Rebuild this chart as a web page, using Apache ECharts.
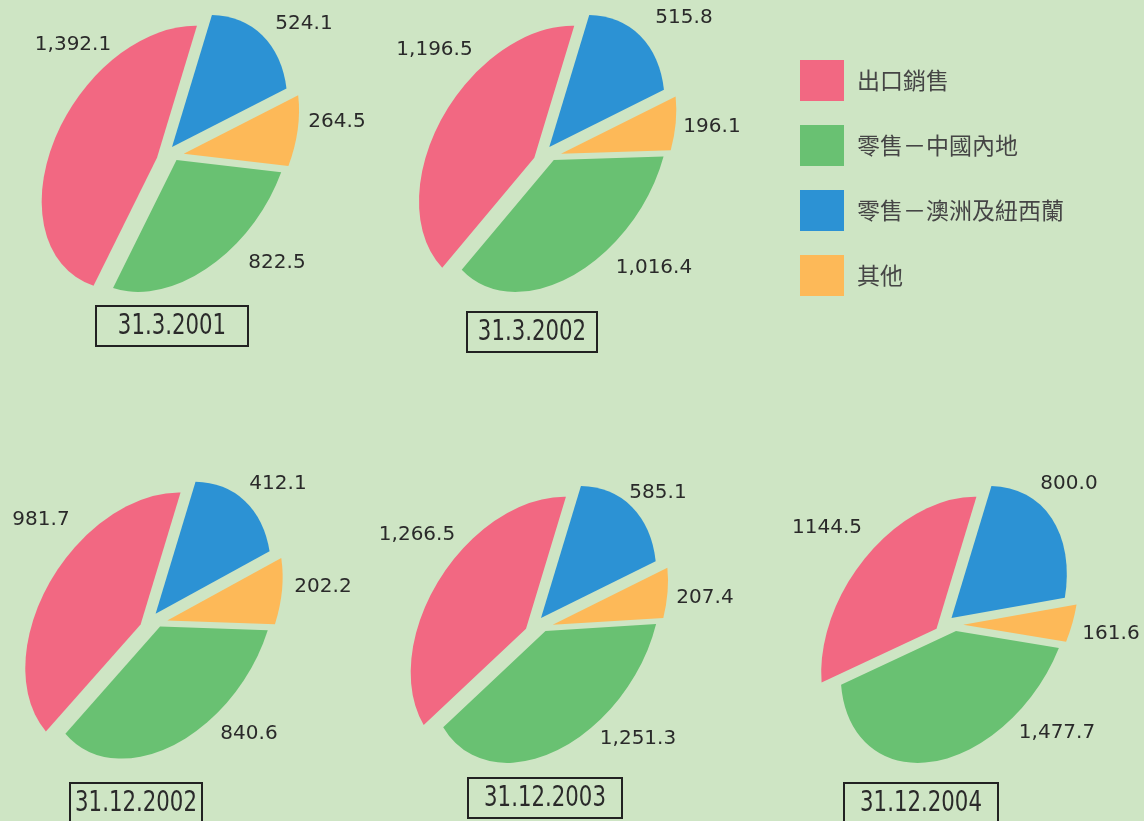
<!DOCTYPE html>
<html><head><meta charset="utf-8">
<script src="https://cdn.jsdelivr.net/npm/echarts@6/dist/echarts.min.js"></script>
<style>html,body{margin:0;padding:0;background:#CEE5C4;} #c{width:1144px;height:821px;}</style>
</head><body><div id="c"></div>
<script>
// ---- data ----
const categories = ['出口銷售', '零售－中國內地', '零售－澳洲及紐西蘭', '其他'];
const dates = ['31.3.2001', '31.3.2002', '31.12.2002', '31.12.2003', '31.12.2004'];
const exportSales = [1392.1, 1196.5, 981.7, 1266.5, 1144.5];
const retailChina = [822.5, 1016.4, 840.6, 1251.3, 1477.7];
const retailAnz = [524.1, 515.8, 412.1, 585.1, 800.0];
const others = [264.5, 196.1, 202.2, 207.4, 161.6];

// ---- style / layout ----
const colors = ['#F26882', '#69C172', '#2C92D4', '#FDB958'];
const seriesValues = [exportSales, retailChina, retailAnz, others];
const sliceOrder = [2, 3, 1, 0]; // clockwise from the top boundary
const pieCenters = [[172.3, 154.6], [549.6, 154.6], [155.9, 621.3], [541.3, 625.6], [951.8, 625.6]];
const SEMI_MAJOR = 144.3, SEMI_MINOR = 99.5;
const TILT = 56.1 * Math.PI / 180;
const START = -24 * Math.PI / 180;
// pulled-out offset of each category's slice (screen px) [export, china, anz, other]
const explodeOffsets = [[-15.3, 3.1], [4.2, 5.3], [-0.3, -7.6], [11.4, -0.9]];
// label offsets from pie centre, per pie, per category [export, china, anz, other]
const labelOffsets = [
  [[-99.3, -109.6], [104.7, 108.4], [131.7, -130.6], [164.7, -32.6]],
  [[-115.1, -105.1], [104.4, 113.4], [134.4, -136.6], [162.4, -27.6]],
  [[-114.9, -101.3], [93.1, 112.7], [122.1, -137.3], [167.1, -34.3]],
  [[-124.3, -90.6], [96.7, 113.4], [116.7, -132.6], [163.7, -27.6]],
  [[-124.8, -97.6], [105.2, 107.4], [117.2, -141.6], [159.2, 8.4]]
];
const plainFormat = {'4-0': true};
const dateBoxes = [[172, 326, 152], [532, 332, 130], [136, 803, 132], [545, 798, 154], [921, 803, 154]];

function fmt(v, p, c) {
  const s = v.toFixed(1);
  if (plainFormat[p + '-' + c]) return s;
  const parts = s.split('.');
  return parts[0].replace(/\B(?=(\d{3})+(?!\d))/g, ',') + '.' + parts[1];
}

function makeRender(p) {
  const vals = sliceOrder.map(c => seriesValues[c][p]);
  const total = vals.reduce((s, v) => s + v, 0);
  return function (params, api) {
    const i = params.dataIndex;
    const v = api.value(0);
    let before = 0;
    for (let k = 0; k < i; k++) before += vals[k];
    const sa = START + before / total * 2 * Math.PI;
    const ea = sa + v / total * 2 * Math.PI;
    const cat = sliceOrder[i];
    const cx = pieCenters[p][0], cy = pieCenters[p][1];
    const ex = explodeOffsets[cat];
    const off = labelOffsets[p][cat];
    return {
      type: 'group',
      children: [
        {
          type: 'group', x: cx + ex[0], y: cy + ex[1], rotation: TILT, scaleX: 1,
          scaleY: SEMI_MINOR / SEMI_MAJOR,
          children: [{
            type: 'sector',
            shape: {cx: 0, cy: 0, r0: 0, r: SEMI_MAJOR, startAngle: sa, endAngle: ea, clockwise: true},
            style: {fill: colors[cat]}
          }]
        },
        {
          type: 'text', x: cx + off[0], y: cy + off[1],
          style: {text: fmt(v, p, cat), fontSize: 20, fontFamily: '"DejaVu Sans"', fill: '#2a2a2a',
                  align: 'center', verticalAlign: 'middle'}
        }
      ]
    };
  };
}

const series = [];
categories.forEach((c, i) => {
  series.push({type: 'custom', name: c, coordinateSystem: 'none', itemStyle: {color: colors[i]},
               data: [], renderItem: () => null});
});
dates.forEach((d, p) => {
  series.push({
    type: 'custom', name: d, coordinateSystem: 'none',
    data: sliceOrder.map(c => ({value: seriesValues[c][p], name: categories[c]})),
    renderItem: makeRender(p)
  });
});

const graphic = [];
dates.forEach((d, p) => {
  const b = dateBoxes[p];
  graphic.push({type: 'rect', shape: {x: b[0] - b[2] / 2, y: b[1] - 20, width: b[2], height: 40},
                style: {fill: 'none', stroke: '#222', lineWidth: 2}});
  graphic.push({type: 'text', x: b[0], y: b[1] + 1, scaleX: 0.76,
                style: {text: d, fontSize: 28, fontFamily: '"DejaVu Sans"', fill: '#2a2a2a',
                        align: 'center', verticalAlign: 'middle'}});
});

const chart = echarts.init(document.getElementById('c'));
chart.setOption({
  backgroundColor: '#CEE5C4',
  animation: false,
  legend: {
    orient: 'vertical', left: 795, top: 55, itemWidth: 44, itemHeight: 41, itemGap: 24,
    icon: 'rect', selectedMode: false, data: categories,
    textStyle: {fontFamily: '"Noto Sans CJK TC"', fontSize: 23, color: '#454545', padding: [0, 0, 0, 8]}
  },
  graphic: graphic,
  series: series
});
</script></body></html>
